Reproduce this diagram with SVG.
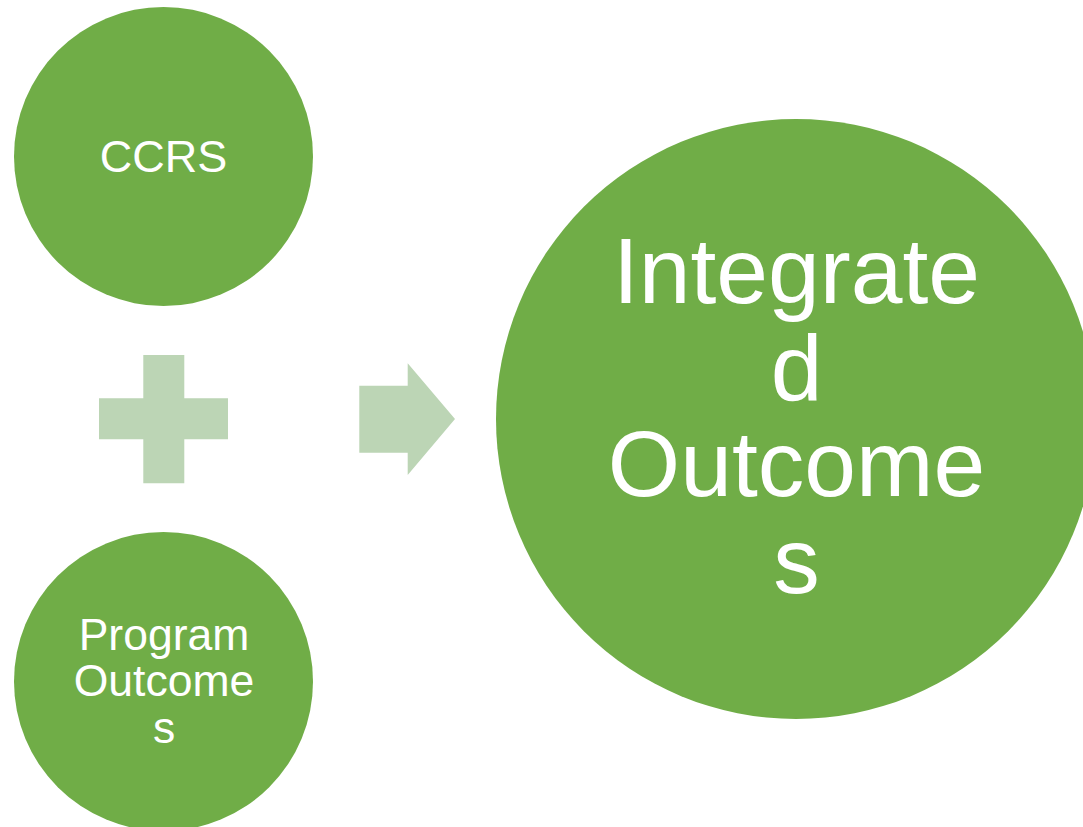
<svg xmlns="http://www.w3.org/2000/svg" width="1083" height="827" viewBox="0 0 1083 827">
<style>
.node{fill:#70AD47}
.sym{fill:#BCD5B5}
.t{fill:#FFFFFF;font-family:"Liberation Sans",Arial,sans-serif;text-anchor:middle}
</style>
<rect width="1083" height="827" fill="#FFFFFF"/>
<g id="ccrs">
<circle class="node" cx="163.5" cy="156.5" r="149.5"/>
<text class="t" x="163.5" y="172" font-size="45">CCRS</text>
</g>
<g id="program-outcomes">
<circle class="node" cx="163.5" cy="681.5" r="149.5"/>
<text class="t" font-size="44.5"><tspan x="164" y="649.5">Program</tspan><tspan x="164" y="696">Outcome</tspan><tspan x="164" y="742.5">s</tspan></text>
</g>
<g id="integrated-outcomes">
<circle class="node" cx="796" cy="419" r="300"/>
<text class="t" font-size="93"><tspan x="796.5" y="303">Integrate</tspan><tspan x="796.5" y="400">d</tspan><tspan x="796.5" y="496">Outcome</tspan><tspan x="796.5" y="593">s</tspan></text>
</g>
<g id="connectors">
<path class="sym" d="M143.3,355 H184.3 V398.3 H228 V439.3 H184.3 V483.3 H143.3 V439.3 H99 V398.3 H143.3 Z"/>
<path class="sym" d="M359.3,385.7 H407.7 V363.3 L455,419 L407.7,475 V452.7 H359.3 Z"/>
</g>
</svg>
